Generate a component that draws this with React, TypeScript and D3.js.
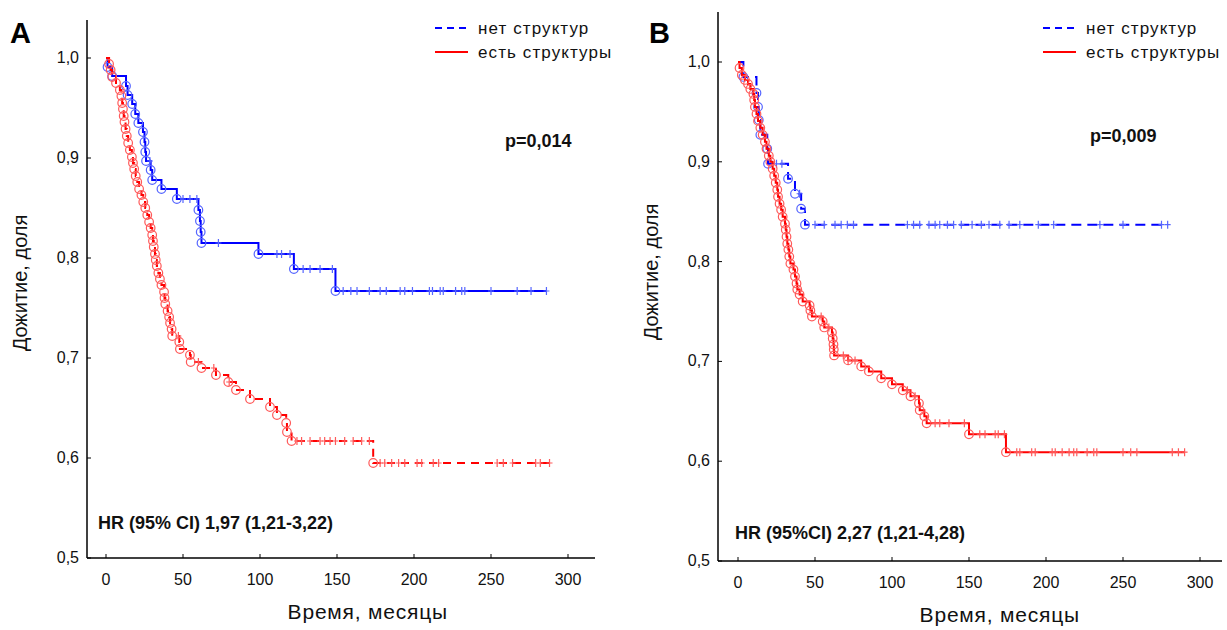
import React from 'react';
import * as d3 from 'd3';

// survival in months, [time, survival after the event]
const aNoEvents: [number, number][] = [
  [1, 0.991], [4, 0.982], [13, 0.972], [14, 0.963], [17, 0.954], [19, 0.944],
  [21, 0.935], [24, 0.926], [25, 0.916], [25.5, 0.906], [26, 0.897], [29, 0.888],
  [30, 0.878], [36, 0.869], [46, 0.859], [60, 0.848], [61, 0.837], [61.5, 0.826],
  [62, 0.815], [99, 0.804], [122, 0.789], [149, 0.767],
];
const aNoCensored = [
  28.5, 50, 54.5, 59, 73, 111, 114, 119.5, 128, 132.5, 139, 147, 154, 159, 163, 171,
  178, 182, 191, 194, 199, 210, 212, 217, 219, 227, 231, 233, 250, 267, 276, 286,
];
const aYesEvents: [number, number][] = [
  [2, 0.994], [3, 0.988], [4, 0.981], [6.5, 0.975], [9, 0.968], [10, 0.962],
  [10.5, 0.955], [11, 0.949], [11.5, 0.942], [12, 0.936], [12.7, 0.929], [13.5, 0.922],
  [14.4, 0.915], [15.5, 0.908], [16.8, 0.901], [17.5, 0.895], [18.3, 0.889], [19.3, 0.882],
  [20.3, 0.876], [21.5, 0.869], [23, 0.863], [24.2, 0.856], [25.5, 0.85], [26.8, 0.843],
  [28, 0.836], [29, 0.83], [30, 0.823], [30.5, 0.817], [31, 0.811], [31.8, 0.804],
  [32.3, 0.798], [33, 0.792], [34, 0.785], [35, 0.779], [36, 0.773], [37.7, 0.766],
  [38, 0.76], [38.5, 0.754], [40, 0.747], [41, 0.741], [41.6, 0.735], [42.6, 0.729],
  [43, 0.722], [47.6, 0.716], [48, 0.709], [54.5, 0.703], [55, 0.696], [62, 0.69],
  [71.4, 0.683], [79.4, 0.676], [84.4, 0.668], [93.5, 0.659], [106.5, 0.651], [111, 0.643],
  [117, 0.635], [117.5, 0.626], [120.5, 0.617], [173.5, 0.595],
];
const aYesCensored = [
  47, 60, 70, 80, 124, 127, 132.5, 139, 142, 145.5, 149, 155, 160.5, 166, 171, 178, 181,
  185.5, 190, 194, 202, 205, 212.5, 216, 254, 258, 264, 279, 282, 288,
];

const bNoEvents: [number, number][] = [
  [3.5, 0.985], [12, 0.969], [13, 0.955], [13.5, 0.942], [14.5, 0.927], [19, 0.913],
  [19.5, 0.898], [32.5, 0.883], [37, 0.868], [41, 0.853], [43.5, 0.837],
];
const bNoCensored = [
  25, 28.5, 40, 50, 56, 63, 67, 71, 75, 110, 114, 118, 124, 128, 131, 136, 140, 145,
  152, 158, 163, 170, 176, 183, 195, 205, 235, 250, 275, 279,
];
const bYesEvents: [number, number][] = [
  [1, 0.994], [2.5, 0.987], [4.5, 0.982], [6.5, 0.978], [8, 0.973], [10, 0.968],
  [10.5, 0.962], [11, 0.955], [12, 0.948], [13, 0.941], [14.5, 0.934], [16, 0.927],
  [17.5, 0.92], [18.5, 0.913], [20, 0.906], [21, 0.9], [22.5, 0.893], [23.5, 0.886],
  [24.5, 0.879], [25.5, 0.872], [26, 0.865], [27, 0.858], [28, 0.852], [29, 0.845],
  [30.5, 0.838], [31, 0.832], [31.5, 0.825], [32, 0.818], [32.7, 0.812], [33.3, 0.805],
  [34, 0.798], [36, 0.792], [37, 0.785], [38, 0.778], [38.5, 0.772], [40, 0.767],
  [42, 0.76], [46.5, 0.756], [47, 0.751], [48, 0.745], [55, 0.74], [56, 0.734],
  [61, 0.729], [61.5, 0.723], [62, 0.717], [62.2, 0.712], [62.4, 0.706], [71.5, 0.701],
  [80, 0.695], [85, 0.69], [93, 0.683], [100, 0.677], [107, 0.671], [112, 0.665],
  [117.5, 0.658], [118, 0.651], [121, 0.645], [122.5, 0.638], [150, 0.627], [174, 0.609],
];
const bYesCensored = [
  54, 59, 68.4, 71.5, 76, 110, 115, 128, 131, 137, 147, 157, 160.4, 167, 169, 173, 181,
  183, 190.7, 193, 204, 206, 210.5, 215, 218, 220, 226.7, 231, 233, 250, 255, 259, 282,
  286, 290,
];

const xTicks = [0, 50, 100, 150, 200, 250, 300];
const yTicks = [0.5, 0.6, 0.7, 0.8, 0.9, 1.0];
const yTickLabels = ['0,5', '0,6', '0,7', '0,8', '0,9', '1,0'];
const legendLabels = ['нет структур', 'есть структуры'];

const BLUE = '#0000ff';
const RED = '#ff0000';
const BLUE_MARK = '#5565ff';
const RED_MARK = '#ff5a5a';
const FONT = "'Liberation Sans', Arial, sans-serif";

type Curve = { events: [number, number][]; censored: number[]; color: string; mark: string; dash?: string };

function levelAt(events: [number, number][], t: number) {
  let v = 1;
  for (const [et, ev] of events) if (et <= t) v = ev;
  return v;
}

function Panel(props: {
  letter: string; letterX: number; axisX: number; axisTop: number; axisBottom: number; axisRight: number;
  x0: number; x300: number; y1: number; curves: Curve[]; pText: string; pX: number; pY: number;
  hrText: string; hrX: number; hrY: number; legendX: number; yTitleY: number;
}) {
  const { axisX, axisTop, axisBottom, axisRight } = props;
  const x = d3.scaleLinear().domain([0, 300]).range([props.x0, props.x300]);
  const y = d3.scaleLinear().domain([0.5, 1]).range([axisBottom, props.y1]);
  const line = d3.line<[number, number]>().x(d => x(d[0])).y(d => y(d[1])).curve(d3.curveStepAfter);

  return (
    <g>
      <text x={props.letterX} y={43} fontFamily={FONT} fontWeight="bold" fontSize={29}>{props.letter}</text>
      {/* axes */}
      <line x1={axisX} x2={axisX} y1={axisTop} y2={axisBottom} stroke="#000" strokeWidth={1.5} />
      <line x1={axisX} x2={axisRight} y1={axisBottom} y2={axisBottom} stroke="#000" strokeWidth={1.5} />
      {yTicks.map((t, i) => (
        <g key={t}>
          <line x1={axisX} x2={axisX + 4} y1={y(t)} y2={y(t)} stroke="#000" />
          <text x={axisX - 8} y={y(t) + 5} textAnchor="end" fontFamily={FONT} fontSize={16} fill="#111">{yTickLabels[i]}</text>
        </g>
      ))}
      {xTicks.map(t => (
        <g key={t}>
          <line x1={x(t)} x2={x(t)} y1={axisBottom} y2={axisBottom - 4} stroke="#000" />
          <text x={x(t)} y={axisBottom + 27} textAnchor="middle" fontFamily={FONT} fontSize={16} fill="#111">{t}</text>
        </g>
      ))}
      <text x={x(170)} y={axisBottom + 61} textAnchor="middle" fontFamily={FONT} fontSize={21} letterSpacing={0.8} fill="#111">Время, месяцы</text>
      <text transform={`translate(${axisX - 60},${props.yTitleY}) rotate(-90)`} textAnchor="middle" fontFamily={FONT} fontSize={20} fill="#111">Дожитие, доля</text>

      {/* curves */}
      {props.curves.map((c, ci) => {
        const last = c.censored[c.censored.length - 1];
        const pts: [number, number][] = [[0, 1], ...c.events, [last, c.events[c.events.length - 1][1]]];
        return (
          <g key={ci}>
            <path d={line(pts) || ''} fill="none" stroke={c.color} strokeWidth={2} strokeDasharray={c.dash} />
            {c.censored.map((t, i) => {
              const cx = x(t), cy = y(levelAt(c.events, t));
              return <path key={i} d={`M${cx - 3},${cy}h6M${cx},${cy - 4}v8`} stroke={c.mark} strokeWidth={1.2} fill="none" />;
            })}
            {c.events.map(([t, v], i) => (
              <circle key={i} cx={x(t)} cy={y(v)} r={4.3} fill="none" stroke={c.mark} strokeWidth={1.2} />
            ))}
          </g>
        );
      })}

      {/* legend */}
      <line x1={props.legendX} x2={props.legendX + 33} y1={28} y2={28} stroke={BLUE} strokeWidth={2} strokeDasharray="7,5" />
      <text x={props.legendX + 43} y={34} fontFamily={FONT} fontSize={17} letterSpacing={1.1} fill="#111">{legendLabels[0]}</text>
      <line x1={props.legendX} x2={props.legendX + 33} y1={52} y2={52} stroke={RED} strokeWidth={2} />
      <text x={props.legendX + 43} y={58} fontFamily={FONT} fontSize={17} letterSpacing={1.1} fill="#111">{legendLabels[1]}</text>

      <text x={props.pX} y={props.pY} fontFamily={FONT} fontWeight="bold" fontSize={18} fill="#111">{props.pText}</text>
      <text x={props.hrX} y={props.hrY} fontFamily={FONT} fontWeight="bold" fontSize={18} fill="#111">{props.hrText}</text>
    </g>
  );
}

export default function App() {
  return (
    <svg width={1227} height={630} style={{ position: 'absolute', left: 0, top: 0, background: '#fff' }}>
      <rect width={1227} height={630} fill="#fff" />
      <Panel
        letter="A" letterX={10} axisX={87} axisTop={20} axisBottom={558} axisRight={595}
        x0={106} x300={568} y1={58}
        curves={[
          { events: aNoEvents, censored: aNoCensored, color: BLUE, mark: BLUE_MARK },
          { events: aYesEvents, censored: aYesCensored, color: RED, mark: RED_MARK, dash: '8,6' },
        ]}
        pText="p=0,014" pX={505} pY={147}
        hrText="HR (95% CI) 1,97 (1,21-3,22)" hrX={98} hrY={529}
        legendX={435} yTitleY={283}
      />
      <Panel
        letter="B" letterX={649} axisX={718} axisTop={12} axisBottom={561} axisRight={1222}
        x0={738} x300={1200} y1={62}
        curves={[
          { events: bNoEvents, censored: bNoCensored, color: BLUE, mark: BLUE_MARK, dash: '10,6' },
          { events: bYesEvents, censored: bYesCensored, color: RED, mark: RED_MARK },
        ]}
        pText="p=0,009" pX={1090} pY={142}
        hrText="HR (95%CI) 2,27 (1,21-4,28)" hrX={735} hrY={539}
        legendX={1043} yTitleY={272}
      />
    </svg>
  );
}
